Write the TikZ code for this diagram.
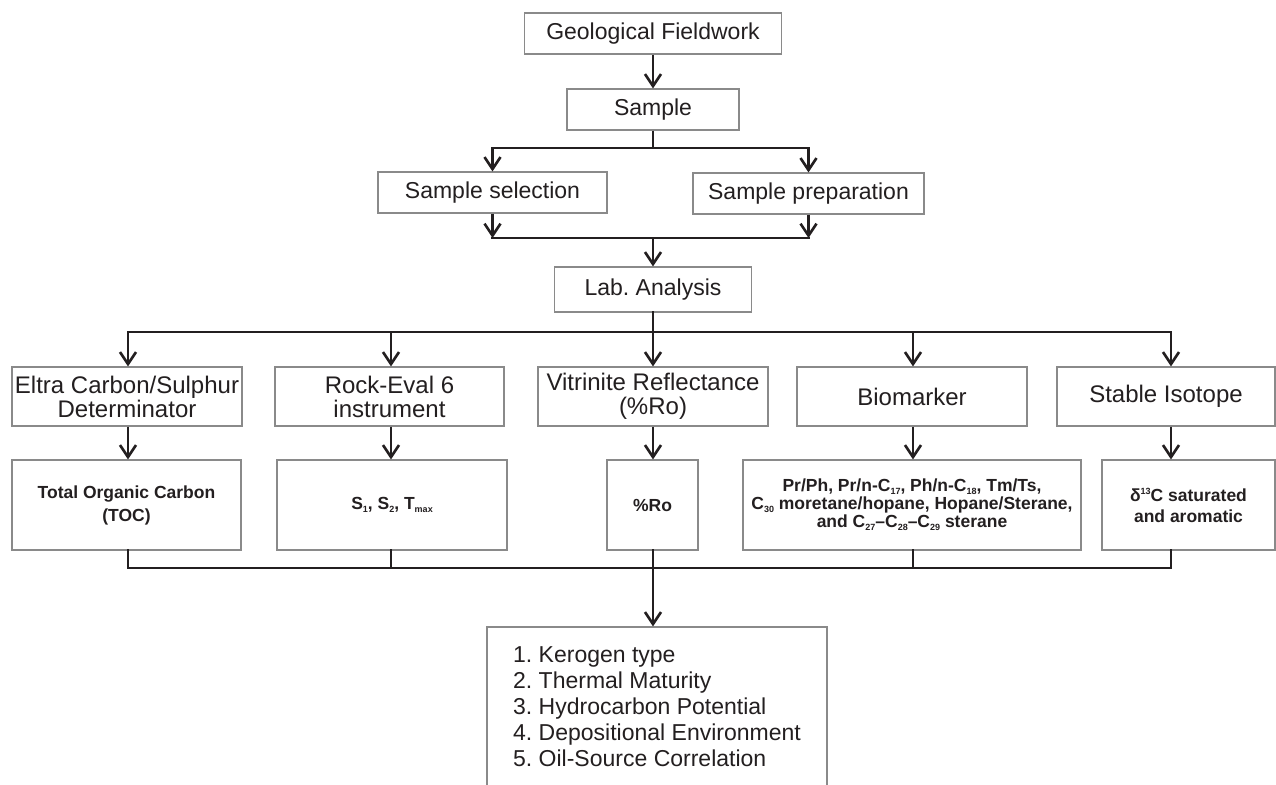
\documentclass[tikz,border=0pt]{standalone}
\usepackage{fontspec}
\setmainfont{Liberation Sans}
\usetikzlibrary{arrows.meta}

\definecolor{borde}{HTML}{8A8A8A}
\definecolor{tinta}{HTML}{231F20}

% Subindices y superindices pequenos como en la figura original
\newcommand{\sub}[1]{\raisebox{-0.3ex}{\fontsize{9}{9}\selectfont #1}}
\newcommand{\supi}[1]{\raisebox{0.75ex}{\fontsize{9}{9}\selectfont #1}}

\tikzset{
  caja/.style={draw=borde, line width=1.2pt, inner sep=0pt, align=center, text=tinta},
  cajaA/.style={caja, font=\fontsize{23}{23}\selectfont},
  cajaB/.style={caja, font=\fontsize{24}{24}\selectfont},
  cajaC/.style={caja, font=\fontsize{17.5}{18}\selectfont\bfseries},
  flecha/.style={-{Straight Barb[length=12pt, width=16pt]}, line width=2.6pt, draw=tinta},
  linea/.style={-, line width=2.6pt, draw=tinta, line cap=rect},
}

\begin{document}
\frenchspacing
\begin{tikzpicture}[x=1pt, y=-1pt]
    % Establecer los limites del grafico
    \clip (0,0) rectangle (1276,784);
    \fill[white] (0,0) rectangle (1276,784);

    % Cajas superiores
    \node[cajaA, minimum width=257pt, minimum height=41pt] (GF) at (653,33.5) {Geological Fieldwork};
    \node[cajaA, minimum width=172pt, minimum height=41pt] (S) at (653,109.5) {Sample};
    \node[cajaA, minimum width=229pt, minimum height=41pt] (SS) at (492.5,192.5) {Sample selection};
    \node[cajaA, minimum width=231pt, minimum height=41pt] (SP) at (808.5,193.5) {Sample preparation};
    \node[cajaA, minimum width=197pt, minimum height=45pt] (LA) at (653,289.5) {Lab. Analysis};

    % Cajas de los metodos
    \node[cajaB, minimum width=230pt, minimum height=59pt] (EC) at (127,396.5) {Eltra Carbon/Sulphur\\Determinator};
    \node[cajaB, minimum width=229pt, minimum height=59pt] (RE) at (389.5,396.5) {Rock-Eval 6\\instrument};
    \node[cajaB, minimum width=230pt, minimum height=59pt] (VR) at (653,396.5) {Vitrinite Reflectance\\(\%Ro)};
    \node[cajaB, minimum width=230pt, minimum height=59pt] (BM) at (912,396.5) {Biomarker};
    \node[cajaB, minimum width=218pt, minimum height=59pt] (SI) at (1166,396.5) {Stable Isotope};

    % Cajas de los parametros
    \node[cajaC, minimum width=229pt, minimum height=90pt, font=\fontsize{17.5}{23}\selectfont\bfseries] (TOC) at (126.5,505) {Total Organic Carbon\\(TOC)};
    \node[cajaC, minimum width=230pt, minimum height=90pt] (SR) at (392,505) {S\sub{1}, S\sub{2}, T\sub{max}};
    \node[cajaC, minimum width=91pt, minimum height=90pt] (RO) at (652.5,505) {\%Ro};
    \node[cajaC, minimum width=338pt, minimum height=90pt] (BD) at (912,505) {Pr/Ph, Pr/n-C\sub{17}, Ph/n-C\sub{18}, Tm/Ts,\\C\sub{30} moretane/hopane, Hopane/Sterane,\\and C\sub{27}--C\sub{28}--C\sub{29} sterane};
    \node[cajaC, minimum width=173pt, minimum height=90pt, font=\fontsize{17.5}{21}\selectfont\bfseries] (DI) at (1188.5,505) {δ\supi{13}C saturated\\and aromatic};

    % Caja de resultados
    \node[caja, minimum width=340pt, minimum height=160pt, align=left,
          font=\fontsize{23}{26}\selectfont] (RES) at (657,707) {1. Kerogen type\\2. Thermal Maturity\\3. Hydrocarbon Potential\\4. Depositional Environment\\5. Oil-Source Correlation};

    % Puntos de ramificacion
    \coordinate (R1) at (653,148);
    \coordinate (R2) at (653,238);
    \coordinate (R3) at (653,332);
    \coordinate (R4) at (653,568);
    \coordinate (K1) at (128,332);
    \coordinate (K2) at (391,332);
    \coordinate (K4) at (913,332);
    \coordinate (K5) at (1171,332);

    % Flechas de la parte superior
    \draw[flecha] (GF) -- (S);
    \draw[flecha] (S.south) -- (R1) -| (SS.north);
    \draw[flecha] (R1) -| (SP.north);
    \draw[flecha] (SS.south) -- (SS.south |- R2);
    \draw[flecha] (SP.south) -- (SP.south |- R2);
    \draw[linea] (SS.south |- R2) -- (SP.south |- R2);
    \draw[flecha] (R2) -- (LA.north);

    % Flechas hacia los metodos
    \draw[linea] (LA.south) -- (R3);
    \draw[flecha] (R3) -| (K1 |- EC.north);
    \draw[flecha] (R3) -| (K5 |- SI.north);
    \draw[flecha] (K2) -- (K2 |- RE.north);
    \draw[flecha] (R3) -- (VR.north);
    \draw[flecha] (K4) -- (K4 |- BM.north);

    % Flechas hacia los parametros
    \draw[flecha] (K1 |- EC.south) -- (K1 |- TOC.north);
    \draw[flecha] (K2 |- RE.south) -- (K2 |- SR.north);
    \draw[flecha] (VR.south) -- (RO.north -| VR.south);
    \draw[flecha] (K4 |- BM.south) -- (K4 |- BD.north);
    \draw[flecha] (K5 |- SI.south) -- (K5 |- DI.north);

    % Linea inferior y flecha al resultado
    \draw[linea] (K1 |- TOC.south) |- (K5 |- R4) -- (K5 |- DI.south);
    \draw[linea] (K2 |- SR.south) -- (K2 |- R4);
    \draw[linea] (RO.south -| R4) -- (R4);
    \draw[linea] (K4 |- BD.south) -- (K4 |- R4);
    \draw[flecha] (R4) -- (R4 |- RES.north);

\end{tikzpicture}
\end{document}
